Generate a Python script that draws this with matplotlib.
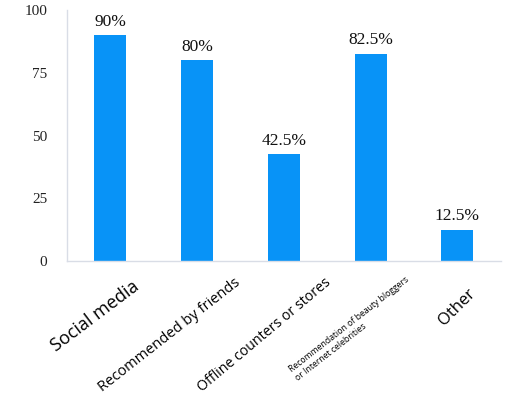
import matplotlib
matplotlib.use("Agg")
import matplotlib.pyplot as plt
import matplotlib.transforms as mtransforms

categories = ["Social media", "Recommended by friends", "Offline counters or stores",
              "Recommendation of beauty bloggers\nor Internet celebrities", "Other"]
values = [90, 80, 42.5, 82.5, 12.5]
value_labels = ["90%", "80%", "42.5%", "82.5%", "12.5%"]
yticks = [0, 25, 50, 75, 100]

# per-label look of the rotated category names (size, rotation, x offset px, y offset px)
label_sizes = [13, 10.5, 10.2, 6.2, 12]
label_rot = [37, 38, 40, 38, 45]
label_dx = [27, 42, 45, 40, 16]
label_dy = [-24, -20, -20, -22, -30]

fig = plt.figure(figsize=(5.31, 3.98), dpi=100)
ax = fig.add_axes([0.126, 0.344, 0.817, 0.631])

x = range(len(values))
ax.bar(x, values, width=0.37, color="#0893f7")

for i, (v, lab) in enumerate(zip(values, value_labels)):
    ax.annotate(lab, (i, v), xytext=(0, 4), textcoords="offset points",
                ha="center", va="bottom", fontsize=12.5,
                family="Liberation Serif", color="#111111")

ax.set_xlim(-0.5, len(values) - 0.5)
ax.set_ylim(0, 100)
ax.set_yticks(yticks)
ax.set_yticklabels([str(t) for t in yticks], family="Liberation Serif",
                   fontsize=11, color="#222222")
ax.tick_params(axis="y", length=0, pad=14)
ax.set_xticks([])

for s in ["top", "right"]:
    ax.spines[s].set_visible(False)
ax.spines["left"].set_color("#d9dde6")
ax.spines["bottom"].set_color("#d9dde6")
ax.spines["left"].set_linewidth(1.0)
ax.spines["bottom"].set_linewidth(1.0)

base = mtransforms.blended_transform_factory(ax.transData, ax.transAxes)
for i, name in enumerate(categories):
    off = mtransforms.ScaledTranslation(label_dx[i] / 100, label_dy[i] / 100, fig.dpi_scale_trans)
    ax.text(i, 0, name, transform=base + off, rotation=label_rot[i],
            rotation_mode="anchor", ha="right", va="center",
            multialignment="left", fontsize=label_sizes[i],
            family="Open Sans", color="black")

fig.savefig("out.png", dpi=100)
